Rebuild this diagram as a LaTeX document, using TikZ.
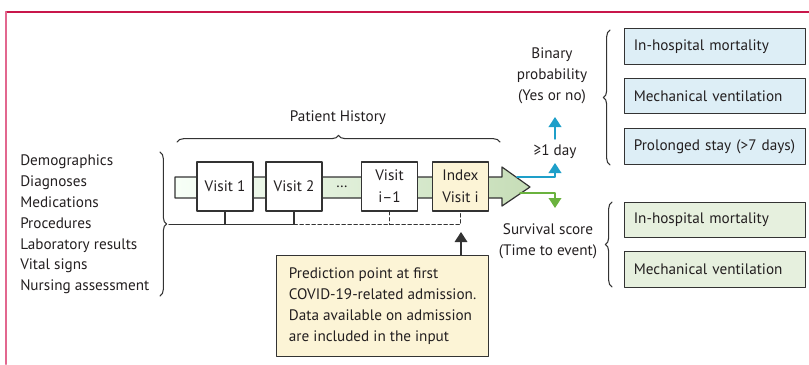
\documentclass[tikz,border=0pt]{standalone}
\usepackage{fontspec}
\setmainfont{PT Sans}
\usetikzlibrary{arrows.meta,decorations.pathreplacing}
\definecolor{rahmenrot}{HTML}{C8174B}
\definecolor{rahmenrosa}{HTML}{E2678F}
\definecolor{linie}{HTML}{333333}
\definecolor{schrift}{HTML}{231F20}
\definecolor{blau}{HTML}{1E9FC9}
\definecolor{gruen}{HTML}{6AB23E}
\definecolor{blaufeld}{HTML}{DDEEF6}
\definecolor{gruenfeld}{HTML}{E6F0DE}
\definecolor{gruenband}{HTML}{C6DDB7}
\definecolor{creme}{HTML}{FCF4D6}
\begin{document}
\begin{tikzpicture}[x=.75pt,y=-.75pt,line cap=round,line join=round,
  text=schrift,font=\fontsize{11.4}{15.6}\selectfont,
  besuch/.style={draw=linie,fill=white,line width=.9pt,minimum width=42pt,minimum height=36.75pt,
    inner sep=1pt,align=center,font=\fontsize{11.4}{16.5}\selectfont},
  ergebnis/.style={draw=linie,line width=.9pt,anchor=north west,inner xsep=6.9pt,
    text width=122pt,align=left},
  klammer/.style={draw=linie,line width=.8pt,decorate,decoration={brace,amplitude=5pt}},
  zeiger/.style={line width=1.1pt,-{Triangle[width=9.5pt,length=7.5pt]}},
  hinweis/.style={align=center,inner sep=0pt}]
\useasboundingbox (0,0) rectangle (809,364);
% Rahmen oben und links.
\draw[rahmenrot,line width=1pt] (6,12)--(809,12);
\draw[rahmenrosa,line width=1.6pt] (6,12)--(6,364);
% Band der Besuche mit dem grossen Pfeil.
\path[shade,left color=green!3!white,right color=gruenband,draw=linie,line width=.9pt]
 (175,177)--(502,177)--(502,167)--(530,187)--(502,206)--(502,198)--(175,198)--cycle;
\coordinate (spitze) at (530,187);
\node[besuch] (v1) at (225,186.5){Visit 1};
\node[besuch] (v2) at (294,186.5){Visit 2};
\node[inner sep=0pt] (punkte) at (342,186.5){\dots};
\node[besuch] (vim) at (389.5,186.5){Visit\\i–1};
\node[besuch,fill=creme] (idx) at (460.5,186.5){Index\\Visit i};
\draw[klammer] (177,142)--(500,142);
\node[hinweis] (hist) at (338,118){Patient History};
% Eingaben links und Sammelleitung.
\node[anchor=west,align=left,inner sep=0pt] (daten) at (20,224.5){Demographics\\Diagnoses\\Medications\\Procedures\\Laboratory results\\Vital signs\\Nursing assessment};
\draw[klammer] (160,152)--(160,296);
\coordinate (bus) at (169,224.5);
\draw[linie,line width=.8pt] (v1.south)--(v1.south |- bus);
\draw[linie,line width=.8pt] (bus)--(v2.south |- bus)--(v2.south);
\draw[linie,line width=.8pt,dash pattern=on 2.5pt off 2pt] (v2.south |- bus)--(idx.south |- bus)--(idx.south);
\draw[linie,line width=.8pt,dash pattern=on 2.5pt off 2pt] (vim.south)--(vim.south |- bus);
% Vorhersagezeitpunkt.
\node[draw=linie,fill=creme,line width=.9pt,anchor=north west,inner sep=0pt,
  minimum width=159pt,minimum height=75.75pt,align=left,font=\fontsize{11.4}{15.75}\selectfont] (vorh) at (276,255)
 {Prediction point at first\\COVID-19-related admission.\\Data available on admission\\are included in the input};
\coordinate (vorhziel) at (461,232);
\draw[linie,zeiger,line width=.9pt] (vorh.north -| vorhziel)--(vorhziel);
% Ausgaenge: binaer und Ueberlebenszeit.
\draw[blau,zeiger] ([shift={(-13,-10)}]spitze) -| (555,163);
\node[hinweis] (tag) at (555,152){≥1 day};
\draw[blau,zeiger] (555,139)--(555,117);
\node[hinweis] (binaer) at (552,76){Binary\\probability\\(Yes or no)};
\draw[gruen,zeiger] ([shift={(-10,6)}]spitze) -| (555,208);
\node[hinweis] (surv) at (548,241){Survival score\\(Time to event)};
\draw[klammer] (610,165)--(610,30);
\draw[klammer] (612,287)--(612,202);
\node[ergebnis,fill=blaufeld,minimum height=27pt] (b1) at (624,28){In-hospital mortality};
\node[ergebnis,fill=blaufeld,minimum height=26.25pt] (b2) at (624,78){Mechanical ventilation};
\node[ergebnis,fill=blaufeld,minimum height=27pt] (b3) at (624,128){Prolonged stay (>7 days)};
\node[ergebnis,fill=gruenfeld,minimum height=26.25pt] (g1) at (624,202){In-hospital mortality};
\node[ergebnis,fill=gruenfeld,minimum height=27pt] (g2) at (624,251){Mechanical ventilation};
\end{tikzpicture}
\end{document}
